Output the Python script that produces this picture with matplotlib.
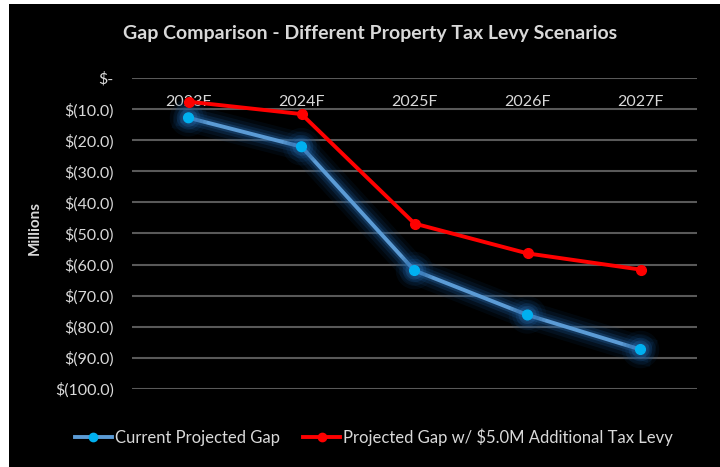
import matplotlib
matplotlib.use("Agg")
import matplotlib.pyplot as plt
import matplotlib.patheffects as pe
from matplotlib.patches import Rectangle
from matplotlib.ticker import FuncFormatter, MultipleLocator

categories = ["2023F", "2024F", "2025F", "2026F", "2027F"]
current_gap = [-12.8, -22.1, -61.9, -76.2, -87.3]
levy_gap = [-7.6, -11.6, -46.8, -56.4, -61.6]
series_names = ["Current Projected Gap", "Projected Gap w/ $5.0M Additional Tax Levy"]

plt.rcParams['font.family'] = ['Lato', 'DejaVu Sans']
txt = '#d9d9d9'

fig = plt.figure(figsize=(7.2, 4.67), dpi=100)
fig.patch.set_facecolor('white')
fig.patches.append(Rectangle((9/720, 0), 1, 1 - 4/467, transform=fig.transFigure,
                             facecolor='black', edgecolor='none', zorder=-10))

ax = fig.add_axes([132/720, 1 - 389/467, (697 - 132)/720, (389 - 78)/467])
ax.set_facecolor('black')
x = list(range(len(categories)))

glow = [pe.Stroke(linewidth=20, foreground='#10406e', alpha=0.12),
        pe.Stroke(linewidth=15, foreground='#16508a', alpha=0.15),
        pe.Stroke(linewidth=10, foreground='#1f64a8', alpha=0.2),
        pe.Stroke(linewidth=6, foreground='#2f78c0', alpha=0.25),
        pe.Normal()]
l1, = ax.plot(x, current_gap, color='#5b9bd5', lw=2.8, marker='o', ms=7,
              mfc='#00b0f0', mec='#00b0f0', zorder=3, path_effects=glow)
l2, = ax.plot(x, levy_gap, color='#ff0000', lw=2.8, marker='o', ms=7,
              mfc='#ff0000', mec='#ff0000', zorder=4)

ax.set_xlim(-0.5, len(categories) - 0.5)
ax.set_ylim(-100, 0)
ax.yaxis.set_major_locator(MultipleLocator(10))
ax.yaxis.set_major_formatter(FuncFormatter(lambda v, p: "$-" if abs(v) < 1e-9 else f"$({abs(v):.1f})"))
ax.grid(axis='y', color='#595959', lw=1.5)
ax.set_axisbelow(True)
for s in ax.spines.values():
    s.set_visible(False)
ax.set_xticks(x)
ax.set_xticklabels(categories)
ax.tick_params(axis='x', top=False, bottom=False, labeltop=True, labelbottom=False,
               pad=-26, labelcolor=txt, labelsize=11.5)
ax.tick_params(axis='y', length=0, pad=13, labelcolor=txt, labelsize=11.5)
for lab in ax.get_yticklabels():
    lab.set_horizontalalignment('right')

fig.text(35/720, 1 - 228/467, "Millions", rotation=90, color=txt, fontsize=11,
         fontweight='bold', ha='center', va='center')
fig.text(370/720, 1 - 33/467, "Gap Comparison - Different Property Tax Levy Scenarios",
         color=txt, fontsize=14, fontweight='bold', ha='center', va='center')

leg = fig.legend([l1, l2], series_names, loc='center', bbox_to_anchor=(374/720, 1 - 437/467),
                 ncol=2, frameon=False, fontsize=12, labelcolor=txt,
                 handlelength=2.2, handletextpad=0.2, columnspacing=1.4)
for h in leg.legend_handles:
    h.set_path_effects([])
    h.set_markersize(6)

fig.savefig("out.png", dpi=100, facecolor=fig.get_facecolor())
